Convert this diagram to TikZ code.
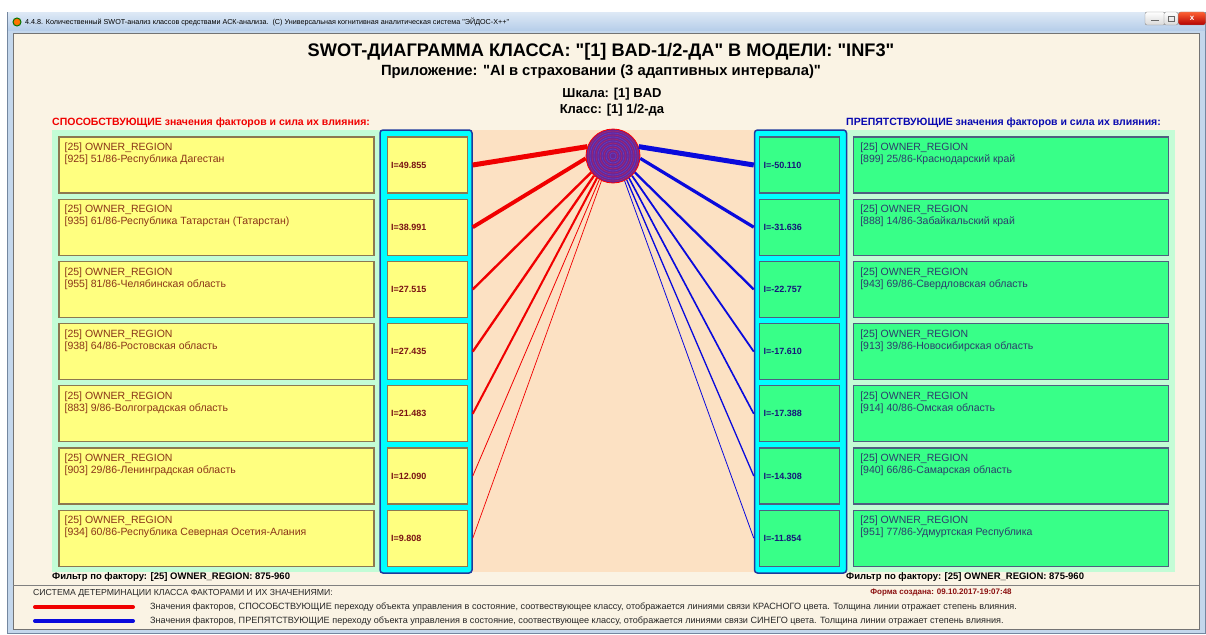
\documentclass[tikz,border=0pt]{standalone}
\usepackage{fontspec}
\setmainfont{Liberation Sans}[Ligatures=TeXOff]
\usepackage{tikz}
\usetikzlibrary{positioning}
\definecolor{framebg}{HTML}{C4D7EC}
\definecolor{frameline}{HTML}{7487A0}
\definecolor{tbtop}{HTML}{DCE8F5}
\definecolor{tbbot}{HTML}{B5CDE9}
\definecolor{winbg}{HTML}{FAF3E4}
\definecolor{peach}{HTML}{FCE1C3}
\definecolor{mint}{HTML}{C3FCD6}
\definecolor{yelbox}{HTML}{FFFF80}
\definecolor{yelline}{HTML}{8C7850}
\definecolor{yeltext}{HTML}{8A3418}
\definecolor{grnbox}{HTML}{38FF88}
\definecolor{grnline}{HTML}{4E5F80}
\definecolor{grntext}{HTML}{2C3C6C}
\definecolor{colcyan}{HTML}{00FFFF}
\definecolor{colline}{HTML}{1E3A9E}
\definecolor{valred}{HTML}{7A1414}
\definecolor{valblue}{HTML}{16167A}
\definecolor{linkred}{HTML}{F00000}
\definecolor{linkblue}{HTML}{0A0ADC}
\definecolor{hubfill}{HTML}{6C2494}
\definecolor{stamp}{HTML}{8B1010}

\begin{document}
\begin{tikzpicture}[
        x=1pt, y=-1pt,
        every node/.style={font=\fontsize{10.5}{12}\selectfont, inner sep=0pt},
        fbox/.style={draw, line width=1.2pt, minimum width=315pt, minimum height=56pt},
        vbox/.style={draw, line width=1.2pt, text width=72pt, inner sep=4pt,
                minimum height=56pt, align=left, font=\bfseries\fontsize{9}{10}\selectfont},
        ftxt/.style={anchor=north west, align=left},
        colbox/.style={draw=colline, fill=colcyan, line width=1.5pt, rounded corners=3pt,
                minimum width=92pt, minimum height=443pt},
        head/.style={anchor=west, font=\bfseries\fontsize{10.5}{12}\selectfont},
        filt/.style={anchor=west, font=\bfseries\fontsize{9.5}{11}\selectfont},
        legtxt/.style={anchor=west, font=\fontsize{9.1}{10}\selectfont, text=black!85},
        legline/.style={line width=4pt, line cap=round},
        winbtn/.style={draw=black!45, rounded corners=2pt, minimum height=13pt,
                top color=white, bottom color=black!15}
    ]
    \useasboundingbox (0,0) rectangle (1206,634);

    % ================= window frame ==========================
    \fill[white] (0,0) rectangle (1206,634);
    \draw[frameline, fill=framebg] (7,12) rectangle (1205.5,633.5);
    \shade[top color=tbtop, bottom color=tbbot] (8,13) rectangle (1205,31);
    \draw[black!55, fill=winbg] (13,33) rectangle (1199,629);
    \node[circle, fill=orange!90!red, draw=green!45!black, line width=1pt,
        minimum size=8pt] (icon) at (17,22) {};
    \node[anchor=west, font=\fontsize{7.2}{8}\selectfont] (wtitle) at (25,22)
    {4.4.8. Количественный SWOT-анализ классов средствами АСК-анализа.\ \ (С) Универсальная когнитивная аналитическая система "ЭЙДОС-Х++"};
    \node[winbtn, minimum width=20pt] (bmin) at (1155,18.5) {};
    \node[winbtn, minimum width=14pt] (bmax) at (1171,18.5) {};
    \node[winbtn, minimum width=27pt, top color=red!55!orange!80, bottom color=red!70!black,
        text=white, font=\bfseries\fontsize{8}{8}\selectfont] (bclose) at (1192,18.5) {x};
    \draw[black!60, line width=1.2pt] ([xshift=-4pt,yshift=-2pt]bmin.center) -- ([xshift=4pt,yshift=-2pt]bmin.center);
    \draw[black!60, line width=0.8pt] ([xshift=-3pt,yshift=-2.5pt]bmax.center) rectangle ([xshift=3pt,yshift=2.5pt]bmax.center);

    % ================= headings ==========================
    \node[font=\bfseries\fontsize{18.2}{20}\selectfont] (title) at (601,52)
    {SWOT-ДИАГРАММА КЛАССА: "[1] BAD-1/2-ДА" В МОДЕЛИ: "INF3"};
    \node[font=\bfseries\fontsize{14.8}{16}\selectfont] (appl) at (601,72)
    {Приложение: "AI в страховании (3 адаптивных интервала)"};
    \node[font=\bfseries\fontsize{13}{14}\selectfont] (scale) at (612,94) {Шкала: [1] BAD};
    \node[font=\bfseries\fontsize{13}{14}\selectfont] (class) at (612,110) {Класс: [1] 1/2-да};
    \node[head, text=linkred] (headL) at (52,123) {СПОСОБСТВУЮЩИЕ значения факторов и сила их влияния:};
    \node[head, text=linkblue!80!black] (headR) at (846,123) {ПРЕПЯТСТВУЮЩИЕ значения факторов и сила их влияния:};

    % ================= panels ==========================
    \fill[mint] (52,130) rectangle (385,572);
    \fill[mint] (842,130) rectangle (1175,572);
    \fill[peach] (472,130) rectangle (755,572);
    \node[colbox] (colL) at (426,351.5) {};
    \node[colbox] (colR) at (800.5,351.5) {};
    \node[circle, draw=red, line width=0.8pt, fill=hubfill, minimum size=54pt] (hub) at (613,156) {};
    % ring texture of the class circle
    \foreach \r in {3,7,...,23}
    \draw[linkblue!70, line width=0.6pt, opacity=0.6] (hub.center) circle [radius=\r pt];
    \foreach \r in {5,9,...,25}
    \draw[red!80, line width=0.5pt, opacity=0.45] (hub.center) circle [radius=\r pt];

    % ================= contributing values (left) ==========================
    \foreach \i/\reg/\val/\w/\ang in {
            1/{[925] 51/86-Республика Дагестан}/49.855/5.0/160,
            2/{[935] 61/86-Республика Татарстан (Татарстан)}/38.991/3.9/185,
            3/{[955] 81/86-Челябинская область}/27.515/2.4/217,
            4/{[938] 64/86-Ростовская область}/27.435/2.3/226,
            5/{[883] 9/86-Волгоградская область}/21.483/2.0/234,
            6/{[903] 29/86-Ленинградская область}/12.090/0.8/240,
            7/{[934] 60/86-Республика Северная Осетия-Алания}/9.808/0.7/245} {
        \pgfmathsetmacro\yc{165+62.2*(\i-1)}
        \node[fbox, draw=yelline, fill=yelbox] (fl\i) at (216.5,\yc) {};
        \node[ftxt, text=yeltext] (tl\i) at ([shift={(6,6.5)}]fl\i.north west)
        {[25] OWNER\_REGION\\\reg};
        \node[vbox, draw=yelline, fill=yelbox, text=valred, right=12pt of fl\i] (vl\i) {I=\val};
        \draw[linkred, line width=\w pt] (hub.\ang) -- (vl\i.east -| colL.east);
    }

    % ================= hindering values (right) ==========================
    \foreach \i/\reg/\val/\w/\ang in {
            1/{[899] 25/86-Краснодарский край}/-50.110/5.0/20,
            2/{[888] 14/86-Забайкальский край}/-31.636/3.2/-5,
            3/{[943] 69/86-Свердловская область}/-22.757/2.3/-37,
            4/{[913] 39/86-Новосибирская область}/-17.610/1.8/-46,
            5/{[914] 40/86-Омская область}/-17.388/1.6/-54,
            6/{[940] 66/86-Самарская область}/-14.308/1.3/-60,
            7/{[951] 77/86-Удмуртская Республика}/-11.854/0.8/-65} {
        \pgfmathsetmacro\yc{165+62.2*(\i-1)}
        \node[vbox, draw=grnline, fill=grnbox, text=valblue] (vr\i) at (799.5,\yc) {I=\val};
        \node[fbox, draw=grnline, fill=grnbox, right=13pt of vr\i] (fr\i) {};
        \node[ftxt, text=grntext] (tr\i) at ([shift={(7,6.5)}]fr\i.north west)
        {[25] OWNER\_REGION\\\reg};
        \draw[linkblue, line width=\w pt] (hub.\ang) -- (vr\i.west -| colR.west);
    }

    % ================= legend ==========================
    \node[filt] (filtL) at (52,577) {Фильтр по фактору: [25] OWNER\_REGION: 875-960};
    \node[filt] (filtR) at (846,577) {Фильтр по фактору: [25] OWNER\_REGION: 875-960};
    \draw[black!50] (13,585) -- (1199,585);
    \node[legtxt, font=\fontsize{8.7}{10}\selectfont] (legHead) at (33,593) {СИСТЕМА ДЕТЕРМИНАЦИИ КЛАССА ФАКТОРАМИ И ИХ ЗНАЧЕНИЯМИ:};
    \node[font=\bfseries\fontsize{8}{9}\selectfont, text=stamp] (stamp) at (941,593)
    {Форма создана: 09.10.2017-19:07:48};
    \draw[legline, linkred] (35,607) -- (133,607);
    \draw[legline, linkblue] (35,621) -- (133,621);
    \node[legtxt] (legRed) at (150,607)
    {Значения факторов, СПОСОБСТВУЮЩИЕ переходу объекта управления в состояние, соотвествующее классу, отображается линиями связи КРАСНОГО цвета. Толщина линии отражает степень влияния.};
    \node[legtxt] (legBlue) at (150,621)
    {Значения факторов, ПРЕПЯТСТВУЮЩИЕ переходу объекта управления в состояние, соотвествующее классу, отображается линиями связи СИНЕГО цвета. Толщина линии отражает степень влияния.};
\end{tikzpicture}
\end{document}
